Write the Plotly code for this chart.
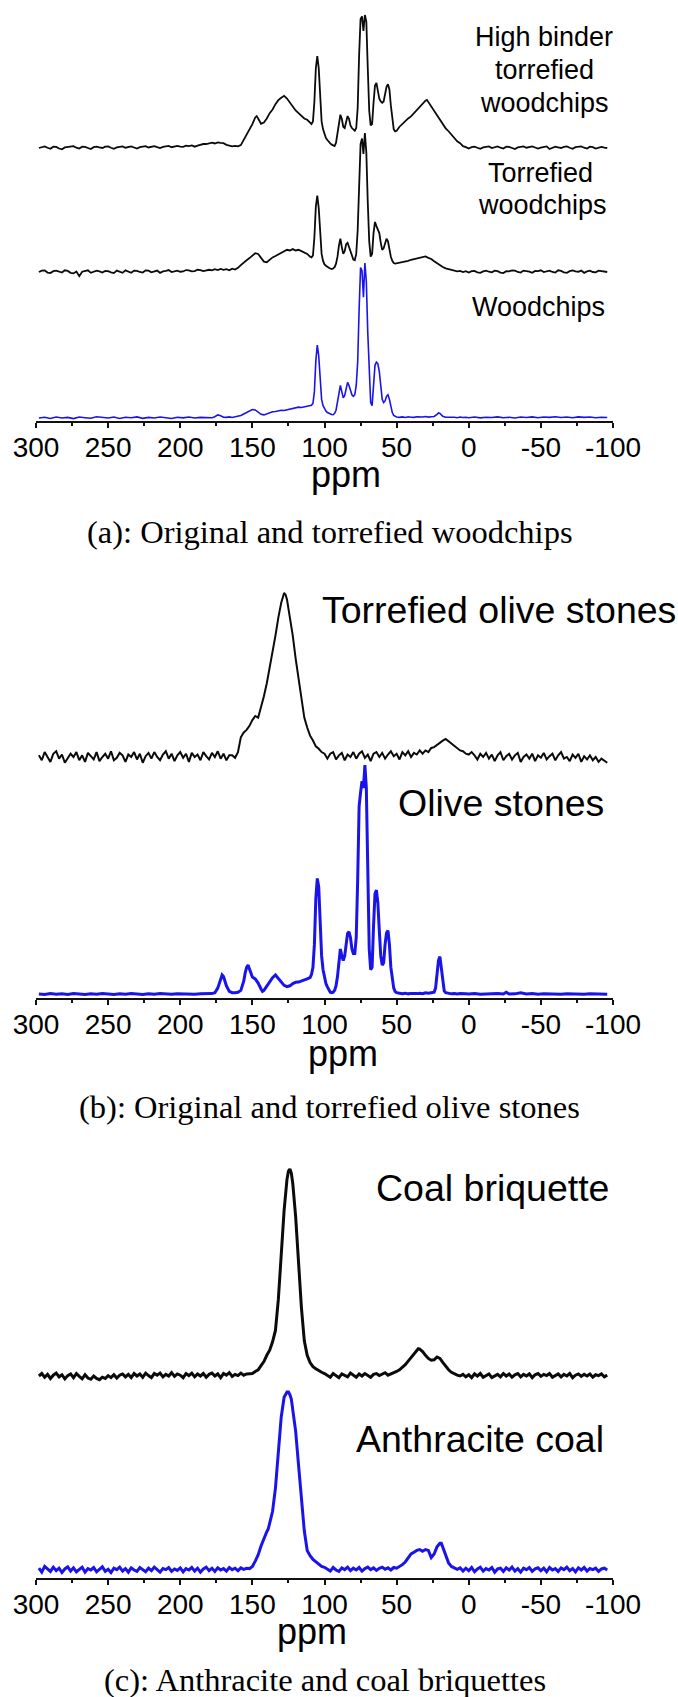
import plotly.graph_objects as go

W, H = 678, 1697

# ---------------- axis ticks ----------------
TICK_VALUES = [300, 250, 200, 150, 100, 50, 0, -50, -100]
TICK_LABELS = ["300", "250", "200", "150", "100", "50", "0", "-50", "-100"]
MINOR_TICKS = [275, 225, 175, 125, 75, 25, -25, -75]

# ---------------- spectra: (ppm, relative intensity) ----------------
WOODCHIPS = [
 (298,0.000),(294,0.005),(290,-0.003),(286,0.006),(282,0.000),(278,0.004),(274,-0.004),(270,0.006),
 (266,0.002),(262,-0.002),(258,0.008),(254,0.003),(250,0.000),(246,0.006),(242,-0.003),(238,0.005),
 (234,0.002),(230,0.007),(226,-0.002),(222,0.004),(218,0.000),(214,0.006),(210,0.002),(206,-0.003),
 (202,0.005),(198,0.001),(194,0.006),(190,0.000),(186,0.004),(182,0.002),
 (180,0.004),(178,0.002),(176,0.008),(174,0.020),(172,0.015),(170,0.005),(168,0.004),(166,0.007),
 (164,0.003),(162,0.008),(160,0.010),(158,0.016),(156,0.026),(154,0.036),(152,0.047),(150,0.055),
 (148,0.052),(146,0.038),(144,0.024),(142,0.020),(140,0.027),(138,0.034),(136,0.040),(134,0.042),
 (132,0.046),(130,0.050),(128,0.048),(126,0.053),(124,0.056),(122,0.060),(120,0.066),(118,0.070),
 (116,0.068),(114,0.073),(112,0.075),(110,0.078),(109,0.082),(108,0.095),(107,0.17),(106,0.37),
 (105,0.47),(104,0.40),(103,0.22),(102,0.12),(101,0.08),(100,0.06),(99,0.045),(98,0.035),(97,0.03),
 (96,0.025),(95,0.022),(94,0.021),(93,0.03),(92,0.05),(91,0.10),(90,0.17),(89,0.21),(88,0.17),
 (87,0.13),(86,0.145),(85,0.20),(84,0.23),(83,0.21),(82,0.17),(81,0.15),(80,0.14),(79,0.15),
 (78,0.21),(77,0.36),(76,0.70),(75,0.97),(74,0.95),(73,0.78),(72,1.00),(71,0.88),(70,0.55),(69,0.25),
 (68,0.10),(67,0.08),(66,0.20),(65,0.34),(64,0.36),(63,0.35),(62,0.30),(61,0.20),(60,0.12),(59,0.10),
 (58,0.11),(57,0.14),(56,0.15),(55,0.12),(54,0.07),(53,0.035),(52,0.016),(51,0.009),(50,0.006),
 (48,0.004),(46,0.007),(44,0.003),(42,0.008),(40,0.005),(38,0.004),(36,0.008),(34,0.005),(32,0.006),
 (30,0.010),(28,0.006),(26,0.008),(24,0.010),(22,0.024),(21,0.033),(20,0.030),(18,0.011),(16,0.005),
 (14,0.006),(12,0.003),(10,0.005),(8,0.002),(6,0.006),(4,0.003),(2,0.005),
 (0,0.002),(-4,0.006),(-8,0.001),(-12,0.005),(-16,0.003),(-20,0.007),(-24,0.002),(-28,0.005),
 (-32,0.000),(-36,0.006),(-40,0.003),(-44,0.007),(-48,0.002),(-52,0.006),(-56,0.004),(-60,0.008),
 (-64,0.003),(-68,0.006),(-72,0.002),(-76,0.007),(-80,0.004),(-84,0.006),(-88,0.002),(-92,0.005),(-96,0.003),
]

TORREFIED_WOODCHIPS = [
 (298,0.000),(296,0.010),(294,0.012),(292,-0.004),(290,-0.008),(288,0.006),(286,0.010),(284,0.000),
 (282,-0.004),(280,0.012),(278,0.008),(276,-0.006),(274,-0.010),(272,0.004),(270,-0.030),(268,0.002),
 (266,0.006),(264,0.012),(262,-0.006),(260,0.002),(258,0.010),(256,0.004),(254,-0.004),(252,0.008),
 (250,0.006),(248,-0.002),(246,-0.008),(244,0.010),(242,0.004),(240,-0.006),(238,0.012),(236,0.002),
 (234,-0.006),(232,0.010),(230,0.008),(228,0.000),(226,-0.004),(224,0.012),(222,0.010),(220,-0.002),
 (218,0.002),(216,0.010),(214,-0.006),(212,0.004),(210,0.008),(208,0.014),(206,0.000),(204,0.006),
 (202,0.010),(200,0.002),(198,0.004),(196,0.014),(194,0.012),(192,0.004),(190,0.006),(188,0.016),
 (186,0.014),(184,0.006),(182,0.010),
 (180,0.016),(178,0.012),(176,0.020),(174,0.014),(172,0.022),(170,0.016),(168,0.020),(166,0.012),
 (164,0.024),(162,0.018),(160,0.030),(158,0.050),(156,0.070),(154,0.085),(152,0.100),(150,0.120),
 (148,0.135),(146,0.130),(144,0.100),(142,0.075),(140,0.070),(138,0.090),(136,0.105),(134,0.115),
 (132,0.125),(130,0.140),(128,0.150),(126,0.160),(124,0.155),(122,0.165),(120,0.155),(118,0.160),
 (116,0.150),(114,0.140),(112,0.130),(110,0.110),(109,0.105),(108,0.120),(107,0.25),(106,0.47),
 (105,0.55),(104,0.46),(103,0.26),(102,0.13),(101,0.08),(100,0.055),(99,0.045),(98,0.035),(97,0.03),
 (96,0.025),(95,0.022),(94,0.025),(93,0.035),(92,0.06),(91,0.11),(90,0.19),(89,0.24),(88,0.18),
 (87,0.13),(86,0.15),(85,0.20),(84,0.21),(83,0.18),(82,0.14),(81,0.11),(80,0.09),(79,0.085),
 (78,0.13),(77,0.30),(76,0.65),(75,0.92),(74,0.96),(73,0.85),(72,1.00),(71,0.86),(70,0.50),(69,0.22),
 (68,0.11),(67,0.13),(66,0.28),(65,0.36),(64,0.33),(63,0.31),(62,0.28),(61,0.21),(60,0.16),(59,0.17),
 (58,0.21),(57,0.24),(56,0.22),(55,0.16),(54,0.11),(53,0.08),(52,0.065),(51,0.06),(50,0.062),
 (48,0.068),(46,0.072),(44,0.078),(42,0.080),(40,0.088),(38,0.092),(36,0.096),(34,0.100),(32,0.106),
 (30,0.112),(28,0.102),(26,0.094),(24,0.078),(22,0.062),(20,0.048),(18,0.036),(16,0.026),(14,0.020),
 (12,0.012),(10,0.010),(8,0.004),(6,0.008),(4,0.000),(2,0.006),
 (0,-0.004),(-2,0.006),(-4,0.008),(-6,-0.002),(-8,-0.006),(-10,0.004),(-12,0.010),(-14,0.002),
 (-16,-0.002),(-18,0.010),(-20,0.006),(-22,-0.004),(-24,-0.008),(-26,0.006),(-28,0.004),(-30,0.012),
 (-32,0.010),(-34,0.000),(-36,-0.004),(-38,0.010),(-40,0.008),(-42,0.002),(-44,-0.006),(-46,0.008),
 (-48,0.006),(-50,0.012),(-52,0.000),(-54,0.004),(-56,0.010),(-58,0.000),(-60,-0.004),(-62,0.012),
 (-64,0.008),(-66,-0.002),(-68,-0.006),(-70,0.006),(-72,0.012),(-74,0.004),(-76,0.002),(-78,0.010),
 (-80,-0.006),(-82,0.004),(-84,0.010),(-86,0.000),(-88,-0.002),(-90,0.010),(-92,0.008),(-94,0.002),(-96,0.000),
]

HIGH_BINDER_WOODCHIPS = [
 (298,0.000),(296,0.008),(294,0.012),(292,0.002),(290,-0.006),(288,0.010),(286,0.008),(284,-0.004),
 (282,-0.010),(280,0.004),(278,0.006),(276,0.012),(274,0.014),(272,0.002),(270,-0.004),(268,0.010),
 (266,0.008),(264,0.000),(262,-0.008),(260,0.006),(258,0.010),(256,0.004),(254,0.000),(252,0.010),
 (250,0.012),(248,0.002),(246,-0.006),(244,0.004),(242,0.008),(240,0.012),(238,0.002),(236,0.008),
 (234,0.012),(232,0.004),(230,-0.004),(228,0.006),(226,0.010),(224,0.014),(222,0.004),(220,0.010),
 (218,0.014),(216,0.006),(214,0.000),(212,0.008),(210,0.010),(208,0.016),(206,0.006),(204,0.012),
 (202,0.016),(200,0.010),(198,0.008),(196,0.018),(194,0.014),(192,0.020),(190,0.010),(188,0.018),
 (186,0.024),(184,0.030),(182,0.030),
 (180,0.036),(178,0.040),(176,0.034),(174,0.042),(172,0.038),(170,0.036),(168,0.024),(166,0.018),
 (164,0.012),(162,0.016),(160,0.012),(158,0.022),(156,0.060),(154,0.100),(152,0.132),(150,0.180),
 (148,0.230),(147,0.240),(146,0.222),(144,0.182),(142,0.192),(140,0.222),(138,0.262),(136,0.290),
 (134,0.330),(132,0.360),(130,0.378),(128,0.392),(126,0.372),(124,0.340),(122,0.312),(120,0.282),
 (118,0.262),(116,0.240),(114,0.222),(112,0.212),(111,0.200),(110,0.192),(109,0.180),(108,0.200),
 (107,0.350),(106,0.600),(105,0.690),(104,0.600),(103,0.360),(102,0.200),(101,0.140),(100,0.100),
 (99,0.075),(98,0.060),(97,0.045),(96,0.035),(95,0.025),(94,0.020),(93,0.015),(92,0.040),(91,0.100),
 (90,0.190),(89,0.250),(88,0.220),(87,0.160),(86,0.150),(85,0.190),(84,0.240),(83,0.220),(82,0.170),
 (81,0.150),(80,0.140),(79,0.130),(78,0.150),(77,0.300),(76,0.700),(75,0.970),(74,0.990),(73,0.880),
 (72,1.000),(71,0.950),(70,0.600),(69,0.280),(68,0.170),(67,0.180),(66,0.340),(65,0.470),(64,0.490),
 (63,0.420),(62,0.370),(61,0.350),(60,0.340),(59,0.350),(58,0.400),(57,0.460),(56,0.480),(55,0.440),
 (54,0.320),(53,0.200),(52,0.140),(51,0.125),(50,0.130),
 (48,0.160),(46,0.182),(44,0.198),(42,0.222),(40,0.238),(38,0.262),(36,0.282),(34,0.312),(32,0.328),
 (30,0.356),(29,0.362),(28,0.346),(26,0.312),(24,0.278),(22,0.242),(20,0.208),(18,0.182),(16,0.148),
 (14,0.126),(12,0.098),(10,0.076),(8,0.050),(6,0.036),(4,0.014),(2,0.006),
 (0,-0.004),(-2,0.006),(-4,0.010),(-6,0.002),(-8,-0.006),(-10,0.004),(-12,0.008),(-14,0.012),
 (-16,0.000),(-18,0.006),(-20,0.012),(-22,0.002),(-24,-0.004),(-26,0.010),(-28,0.008),(-30,0.000),
 (-32,-0.008),(-34,0.004),(-36,0.010),(-38,0.012),(-40,0.002),(-42,0.008),(-44,0.012),(-46,0.004),
 (-48,-0.004),(-50,0.002),(-52,0.006),(-54,0.012),(-56,-0.008),(-58,0.000),(-60,0.010),(-62,0.004),
 (-64,0.000),(-66,0.008),(-68,0.012),(-70,0.002),(-72,-0.006),(-74,0.006),(-76,0.008),(-78,0.012),
 (-80,0.002),(-82,-0.004),(-84,0.010),(-86,0.006),(-88,-0.004),(-90,0.004),(-92,0.008),(-94,0.002),(-96,0.000),
]

OLIVE_STONES = [
 (298,0.004),(294,0.002),(290,0.006),(286,0.003),(282,0.005),(278,0.002),(274,0.006),(270,0.004),
 (266,0.002),(262,0.005),(258,0.003),(254,0.006),(250,0.004),(246,0.002),(242,0.005),(238,0.003),
 (234,0.006),(230,0.004),(226,0.002),(222,0.005),(218,0.003),(214,0.006),(210,0.004),(206,0.003),
 (202,0.005),(198,0.004),(194,0.006),(190,0.003),(186,0.005),(182,0.004),
 (180,0.005),(178,0.006),(176,0.010),(174,0.030),(172,0.068),(171,0.087),(170,0.080),(169,0.060),
 (168,0.040),(166,0.016),(164,0.010),(162,0.010),(160,0.012),(158,0.020),(156,0.060),(155,0.095),
 (154,0.120),(153,0.130),(152,0.112),(150,0.078),(148,0.070),(146,0.052),(144,0.026),(143,0.016),
 (142,0.020),(140,0.038),(138,0.058),(136,0.075),(134,0.087),(132,0.072),(130,0.056),(128,0.042),
 (126,0.036),(124,0.040),(122,0.050),(120,0.055),(118,0.056),(116,0.060),(114,0.066),(112,0.070),
 (110,0.076),(109,0.090),(108,0.120),(107,0.220),(106,0.420),(105,0.507),(104,0.470),(103,0.300),
 (102,0.170),(101,0.110),(100,0.075),(99,0.050),(98,0.035),(97,0.020),(96,0.012),(95,0.010),
 (94,0.012),(93,0.020),(92,0.040),(91,0.080),(90,0.150),(89,0.200),(88,0.170),(87,0.150),(86,0.170),
 (85,0.230),(84,0.268),(83,0.275),(82,0.250),(81,0.200),(80,0.180),(79,0.180),(78,0.250),(77,0.500),
 (76,0.820),(75,0.880),(74,0.930),(73,0.900),(72,1.000),(71,0.900),(70,0.550),(69,0.200),(68,0.110),
 (67,0.120),(66,0.300),(65,0.440),(64,0.456),(63,0.400),(62,0.280),(61,0.170),(60,0.130),(59,0.140),
 (58,0.220),(57,0.270),(56,0.280),(55,0.220),(54,0.120),(53,0.060),(52,0.030),(51,0.015),(50,0.010),
 (48,0.008),(46,0.006),(44,0.008),(42,0.005),(40,0.007),(38,0.005),(36,0.006),(34,0.008),(32,0.006),
 (30,0.010),(28,0.008),(26,0.010),(24,0.012),(23,0.030),(22,0.080),(21,0.150),(20,0.167),(19,0.120),
 (18,0.050),(17,0.018),(16,0.010),(14,0.007),(12,0.005),(10,0.006),(8,0.004),(6,0.006),(4,0.004),
 (2,0.005),(0,0.004),(-4,0.006),(-8,0.003),(-12,0.005),(-16,0.004),(-20,0.006),(-24,0.004),
 (-26,0.012),(-28,0.004),(-32,0.005),(-36,0.010),(-40,0.004),(-44,0.006),(-48,0.003),(-52,0.005),
 (-56,0.004),(-60,0.006),(-64,0.003),(-68,0.005),(-72,0.004),(-76,0.006),(-80,0.003),(-84,0.005),
 (-88,0.004),(-92,0.006),(-96,0.003),
]

TORREFIED_OLIVE_STONES = [
 (298,0.010),(296,-0.020),(294,0.030),(292,0.000),(290,-0.030),(288,0.020),(286,0.035),(284,-0.010),
 (282,0.015),(280,-0.035),(278,-0.010),(276,0.020),(274,0.000),(272,0.030),(270,-0.020),(268,0.010),
 (266,-0.030),(264,0.025),(262,0.005),(260,-0.015),(258,0.030),(256,-0.025),(254,0.000),(252,0.020),
 (250,-0.010),(248,0.035),(246,-0.020),(244,-0.005),(242,0.025),(240,0.010),(238,-0.030),(236,0.015),
 (234,0.000),(232,0.030),(230,-0.015),(228,0.020),(226,-0.035),(224,0.005),(222,0.025),(220,-0.010),
 (218,0.030),(216,0.000),(214,-0.020),(212,0.015),(210,0.035),(208,-0.010),(206,0.020),(204,-0.025),
 (202,0.010),(200,0.030),(198,-0.005),(196,0.020),(194,-0.030),(192,0.025),(190,0.000),(188,0.015),
 (186,-0.020),(184,0.030),(182,0.005),(180,-0.015),(178,0.025),(176,0.000),(174,0.035),(172,-0.010),
 (170,0.020),(168,-0.020),(166,0.010),
 (164,0.010),(162,-0.005),(160,0.030),(158,0.120),(156,0.150),(154,0.165),(152,0.190),(150,0.225),
 (148,0.250),(146,0.240),(144,0.300),(142,0.370),(140,0.450),(138,0.540),(136,0.630),(134,0.740),
 (132,0.850),(130,0.940),(128,1.000),(127,0.990),(126,0.960),(124,0.860),(122,0.740),(120,0.600),
 (118,0.480),(116,0.360),(114,0.240),(112,0.180),(110,0.130),(108,0.100),(106,0.065),(104,0.050),
 (102,0.030),(100,0.020),
 (98,-0.010),(96,0.020),(94,0.030),(92,-0.015),(90,0.010),(88,0.025),(86,-0.020),(84,0.015),
 (82,0.000),(80,0.030),(78,-0.010),(76,0.020),(74,0.035),(72,-0.005),(70,0.015),(68,-0.025),
 (66,0.020),(64,0.030),(62,0.000),(60,0.025),(58,-0.010),(56,0.015),(54,0.035),(52,0.005),
 (50,0.020),(48,-0.015),(46,0.030),(44,0.010),(42,0.035),(40,0.000),(38,0.025),(36,0.015),(34,0.040),
 (32,0.020),(30,0.040),(28,0.030),(26,0.055),(24,0.060),(22,0.075),(20,0.085),(18,0.100),(16,0.110),
 (14,0.095),(12,0.080),(10,0.065),(8,0.055),(6,0.040),(4,0.035),(2,0.020),(0,0.015),
 (-2,0.030),(-4,0.010),(-6,-0.015),(-8,0.020),(-10,0.000),(-12,0.025),(-14,-0.010),(-16,0.015),
 (-18,-0.025),(-20,0.010),(-22,0.030),(-24,-0.020),(-26,0.005),(-28,0.020),(-30,-0.015),(-32,0.010),
 (-34,0.025),(-36,-0.030),(-38,0.000),(-40,0.015),(-42,-0.010),(-44,0.020),(-46,-0.025),(-48,0.010),
 (-50,-0.005),(-52,0.025),(-54,-0.015),(-56,0.005),(-58,0.020),(-60,-0.020),(-62,0.010),(-64,0.030),
 (-66,-0.010),(-68,0.000),(-70,-0.025),(-72,0.015),(-74,-0.005),(-76,0.020),(-78,-0.030),(-80,0.005),
 (-82,-0.015),(-84,0.010),(-86,-0.020),(-88,0.000),(-90,-0.030),(-92,-0.010),(-94,-0.025),(-96,-0.035),
]

ANTHRACITE_COAL = [
 (298,0.010),(296,-0.012),(294,0.020),(292,0.004),(290,-0.008),(288,0.016),(286,-0.004),(284,0.010),
 (282,-0.014),(280,0.006),(278,0.018),(276,-0.006),(274,0.012),(272,-0.010),(270,0.004),(268,0.016),
 (266,-0.012),(264,0.008),(262,0.000),(260,0.014),(258,-0.010),(256,0.006),(254,0.018),(252,-0.008),
 (250,0.004),(248,-0.014),(246,0.010),(244,0.002),(242,0.016),(240,-0.006),(238,0.008),(236,-0.012),
 (234,0.012),(232,0.000),(230,-0.008),(228,0.014),(226,0.004),(224,-0.010),(222,0.010),(220,-0.004),
 (218,0.016),(216,0.000),(214,-0.012),(212,0.008),(210,0.002),(208,0.014),(206,-0.008),(204,0.006),
 (202,-0.002),(200,0.012),(198,-0.010),(196,0.008),(194,0.000),(192,0.014),(190,-0.006),(188,0.010),
 (186,-0.012),(184,0.006),(182,0.016),(180,-0.004),(178,0.010),(176,-0.008),(174,0.012),(172,0.000),
 (170,0.008),(168,-0.006),(166,0.014),(164,0.002),(162,0.010),(160,-0.004),(158,0.012),(156,0.004),
 (154,0.010),(152,0.008),
 (150,0.020),(148,0.050),(146,0.085),(144,0.135),(142,0.180),(140,0.215),(139,0.230),(138,0.260),
 (136,0.330),(134,0.460),(132,0.650),(130,0.860),(128,0.970),(126,1.000),(125,1.000),(124,0.985),
 (123,0.960),(122,0.900),(120,0.780),(118,0.590),(116,0.400),(114,0.220),(112,0.110),(110,0.080),
 (108,0.060),(106,0.045),(104,0.030),(102,0.020),(100,0.015),
 (98,0.004),(96,-0.006),(94,0.014),(92,0.000),(90,-0.008),(88,0.012),(86,0.002),(84,0.016),
 (82,-0.004),(80,0.010),(78,0.000),(76,0.014),(74,-0.006),(72,0.008),(70,0.016),(68,0.002),
 (66,0.012),(64,-0.002),(62,0.010),(60,0.016),(58,0.004),(56,0.012),(54,0.000),(52,0.014),(50,0.010),
 (48,0.020),(46,0.030),(44,0.045),(42,0.070),(40,0.090),(38,0.100),(36,0.110),(34,0.115),(32,0.105),
 (30,0.115),(28,0.110),(26,0.070),(24,0.090),(22,0.130),(20,0.150),(19,0.150),(18,0.130),(16,0.080),
 (14,0.040),(12,0.020),(10,0.010),
 (8,0.004),(6,0.012),(4,-0.006),(2,0.010),(0,-0.004),(-2,0.014),(-4,-0.010),(-6,0.006),(-8,0.016),
 (-10,-0.006),(-12,0.008),(-14,0.000),(-16,0.014),(-18,-0.012),(-20,0.006),(-22,0.010),(-24,-0.008),
 (-26,0.012),(-28,0.000),(-30,0.016),(-32,-0.006),(-34,0.008),(-36,-0.012),(-38,0.010),(-40,0.002),
 (-42,0.014),(-44,-0.008),(-46,0.006),(-48,0.012),(-50,-0.004),(-52,0.010),(-54,-0.010),(-56,0.014),
 (-58,0.000),(-60,0.008),(-62,-0.008),(-64,0.012),(-66,0.002),(-68,0.016),(-70,-0.004),(-72,0.008),
 (-74,-0.010),(-76,0.012),(-78,0.000),(-80,0.014),(-82,-0.006),(-84,0.008),(-86,0.002),(-88,0.010),
 (-90,-0.008),(-92,0.006),(-94,0.010),(-96,0.000),
]

COAL_BRIQUETTE = [
 (298,0.000),(296,0.012),(294,-0.006),(292,0.008),(290,-0.012),(288,0.004),(286,0.014),(284,-0.004),
 (282,0.006),(280,-0.014),(278,0.002),(276,0.010),(274,-0.008),(272,0.012),(270,-0.002),(268,-0.014),
 (266,0.006),(264,-0.010),(262,-0.016),(260,0.000),(258,-0.012),(256,-0.018),(254,-0.006),(252,-0.012),
 (250,0.002),(248,-0.008),(246,0.006),(244,-0.010),(242,0.004),(240,0.010),(238,-0.004),(236,0.008),
 (234,-0.008),(232,0.012),(230,0.000),(228,0.010),(226,-0.006),(224,0.014),(222,0.002),(220,-0.008),
 (218,0.012),(216,0.004),(214,0.014),(212,-0.004),(210,0.008),(208,0.000),(206,0.016),(204,-0.002),
 (202,0.010),(200,0.004),(198,-0.008),(196,0.012),(194,0.002),(192,0.014),(190,-0.004),(188,0.010),
 (186,0.000),(184,0.012),(182,-0.006),(180,0.008),(178,0.014),(176,0.000),(174,0.010),(172,-0.008),
 (170,0.012),(168,0.004),(166,0.016),(164,-0.002),(162,0.008),(160,0.002),(158,0.014),(156,0.004),
 (154,0.010),(152,0.012),
 (150,0.012),(148,0.022),(146,0.030),(144,0.050),(142,0.070),(140,0.100),(138,0.125),(136,0.165),
 (134,0.220),(132,0.370),(130,0.580),(128,0.800),(126,0.950),(125,0.990),(124,1.000),(123,0.980),
 (122,0.930),(120,0.770),(118,0.550),(116,0.330),(114,0.170),(112,0.100),(110,0.065),(108,0.045),
 (106,0.035),(104,0.025),(102,0.018),(100,0.012),
 (98,0.004),(96,-0.006),(94,0.012),(92,0.000),(90,-0.008),(88,0.010),(86,0.004),(84,-0.004),
 (82,0.014),(80,0.002),(78,-0.006),(76,0.010),(74,0.000),(72,0.012),(70,0.004),(68,-0.006),
 (66,0.008),(64,0.012),(62,0.002),(60,0.010),(58,0.016),(56,0.004),(54,0.010),(52,0.014),
 (50,0.022),(48,0.030),(46,0.042),(44,0.055),(42,0.072),(40,0.090),(38,0.110),(36,0.125),(35,0.132),
 (34,0.130),(32,0.118),(30,0.100),(28,0.085),(26,0.076),(24,0.078),(22,0.092),(20,0.085),(18,0.066),
 (16,0.045),(14,0.030),(12,0.018),(10,0.010),(8,0.004),(6,0.000),
 (4,0.008),(2,-0.004),(0,0.006),(-2,-0.008),(-4,0.010),(-6,0.000),(-8,0.012),(-10,-0.006),
 (-12,0.004),(-14,0.010),(-16,-0.008),(-18,0.002),(-20,0.008),(-22,-0.004),(-24,0.012),(-26,0.000),
 (-28,0.010),(-30,-0.006),(-32,0.006),(-34,0.012),(-36,-0.004),(-38,0.008),(-40,0.000),(-42,0.010),
 (-44,-0.008),(-46,0.006),(-48,0.012),(-50,-0.002),(-52,0.008),(-54,0.002),(-56,0.012),(-58,-0.006),
 (-60,0.004),(-62,0.010),(-64,-0.004),(-66,0.008),(-68,0.000),(-70,0.012),(-72,-0.008),(-74,0.004),
 (-76,0.010),(-78,-0.002),(-80,0.008),(-82,0.000),(-84,0.010),(-86,-0.006),(-88,0.006),(-90,0.002),
 (-92,0.010),(-94,-0.004),(-96,0.004),
]

# ---------------- styling / layout constants ----------------
BLACK = "#0b0b0b"
BLUE = "#1a14e8"
SANS = "Liberation Sans, Arial, Helvetica, sans-serif"
SERIF = "Liberation Serif, Times New Roman, serif"

X_LEFT, X_RIGHT = 36, 613          # pixel span of the ppm axis (300 .. -100)

# each panel: pixel y of axis line, pixel y of panel top,
# spectra: (data, colour, baseline offset [px], peak height [px], line width)
PANELS = [
    dict(axis=421, top=0, spectra=[
        (WOODCHIPS, BLUE, 3, 155, 1.6),
        (TORREFIED_WOODCHIPS, BLACK, 149, 139, 1.8),
        (HIGH_BINDER_WOODCHIPS, BLACK, 273, 133, 1.8)]),
    dict(axis=998, top=560, spectra=[
        (OLIVE_STONES, BLUE, 3, 230, 3.0),
        (TORREFIED_OLIVE_STONES, BLACK, 241, 164, 2.0)]),
    dict(axis=1578, top=1140, spectra=[
        (ANTHRACITE_COAL, BLUE, 8, 178, 3.0),
        (COAL_BRIQUETTE, BLACK, 202, 207, 3.0)]),
]

fig = go.Figure()
layout = dict(width=W, height=H, margin=dict(l=0, r=0, t=0, b=0, pad=0, autoexpand=False),
              paper_bgcolor="white", plot_bgcolor="white", showlegend=False)

for i, p in enumerate(PANELS, start=1):
    sfx = "" if i == 1 else str(i)
    span = p["axis"] - p["top"]
    for data, color, off, scale, lw in p["spectra"]:
        xs = [d[0] for d in data]
        ys = [off + scale * d[1] for d in data]
        fig.add_trace(go.Scatter(x=xs, y=ys, mode="lines",
                                 line=dict(color=color, width=lw),
                                 xaxis="x" + sfx, yaxis="y" + sfx,
                                 hoverinfo="skip", showlegend=False))
    layout["xaxis" + sfx] = dict(
        domain=[X_LEFT / W, X_RIGHT / W], range=[300, -100], autorange=False,
        anchor="y" + sfx, showline=True, linecolor="#111", linewidth=1.5,
        automargin=False,
        ticks="outside", ticklen=5, tickwidth=1.5, tickcolor="#111",
        tickmode="array", tickvals=TICK_VALUES, ticktext=TICK_LABELS,
        tickfont=dict(family=SANS, size=28, color="black"),
        ticklabelstandoff=-4,
        minor=dict(ticks="outside", ticklen=3, tickwidth=1.5, tickcolor="#111",
                   tickmode="array", tickvals=MINOR_TICKS, showgrid=False),
        showgrid=False, zeroline=False, fixedrange=True)
    layout["yaxis" + sfx] = dict(
        domain=[1 - p["axis"] / H, 1 - p["top"] / H], range=[0, span],
        autorange=False, visible=False, automargin=False, fixedrange=True)

def ann(text, x, y, size, family=SANS, xanchor="center"):
    return dict(text=text, x=x / W, y=1 - y / H, xref="paper", yref="paper",
                xanchor=xanchor, yanchor="middle", showarrow=False,
                font=dict(family=family, size=size, color="black"))

annotations = [
    ann("High binder", 544, 37, 27), ann("torrefied", 544, 70, 27), ann("woodchips", 544, 103, 27),
    ann("Torrefied", 540, 173, 27), ann("woodchips", 542, 205, 27),
    ann("Woodchips", 538, 307, 27),
    ann("Torrefied olive stones", 320, 610, 37.5, xanchor="left"),
    ann("Olive stones", 501, 803, 37.5),
    ann("Coal briquette", 492, 1188, 37.5),
    ann("Anthracite coal", 480, 1439, 37.5),
    ann("ppm", 346, 475, 36), ann("ppm", 343, 1053, 36), ann("ppm", 312, 1631, 36),
    ann("(a): Original and torrefied woodchips", 330, 532, 32.5, SERIF),
    ann("(b): Original and torrefied olive stones", 329, 1107, 32.5, SERIF),
    ann("(c): Anthracite and coal briquettes", 325, 1680, 32.5, SERIF),
]
layout["annotations"] = annotations
fig.update_layout(**layout)

fig.write_html("out.html")
